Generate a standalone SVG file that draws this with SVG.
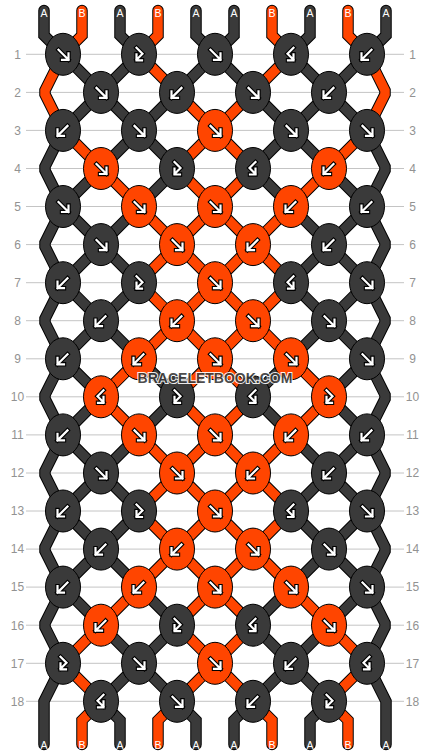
<svg xmlns="http://www.w3.org/2000/svg" width="430" height="756" viewBox="0 0 430 756">
<style>
.grid line{stroke:#c4c4c4;stroke-width:1}
.so{fill:none;stroke:#000;stroke-width:11.5;stroke-linejoin:miter;stroke-linecap:round}
.sc{fill:none;stroke-width:9.5;stroke-linejoin:miter;stroke-linecap:round}
.cd{stroke:#3a3a3a}
.co{stroke:#ff4500}
.kd{fill:#3a3a3a;stroke:#000;stroke-width:1}
.ko{fill:#ff4500;stroke:#000;stroke-width:1}
.ao{fill:none;stroke:#000;stroke-width:4.4;stroke-linejoin:miter;stroke-linecap:square}
.ai{fill:none;stroke:#fff;stroke-width:2.2;stroke-linejoin:miter;stroke-linecap:square}
.num{font-family:"Liberation Sans",Arial,sans-serif;font-size:12px;fill:#929292;text-anchor:middle}
.sl{font-family:"Liberation Sans",Arial,sans-serif;font-size:10.5px;fill:#fff;text-anchor:middle}
.wm{font-family:"Liberation Sans",Arial,sans-serif;font-size:14px;font-weight:bold;fill:#3a3a3a;stroke:#fff;stroke-width:2;paint-order:stroke;text-anchor:middle;opacity:0.9}
</style>
<defs>
<path id="pF" d="M-4.5,-4.5 L5.5,5.5 M5.5,-1 L5.5,5.5 L-1,5.5"/>
<path id="pFB" d="M-2.5,-6.5 L3.5,-0.5 L-2.5,5.5 M-2.5,0 L-2.5,6 L3,6"/>
<g id="aF"><use href="#pF" class="ao"/><use href="#pF" class="ai"/></g>
<g id="aB" transform="scale(-1,1)"><use href="#pF" class="ao"/><use href="#pF" class="ai"/></g>
<g id="aFB"><use href="#pFB" class="ao"/><use href="#pFB" class="ai"/></g>
<g id="aBF" transform="scale(-1,1)"><use href="#pFB" class="ao"/><use href="#pFB" class="ai"/></g>
</defs>
<rect width="430" height="756" fill="#fff"/>
<g class="grid">
<line x1="26" x2="404" y1="54.3" y2="54.3"/><line x1="26" x2="404" y1="92.4" y2="92.4"/><line x1="26" x2="404" y1="130.4" y2="130.4"/><line x1="26" x2="404" y1="168.5" y2="168.5"/><line x1="26" x2="404" y1="206.5" y2="206.5"/><line x1="26" x2="404" y1="244.6" y2="244.6"/><line x1="26" x2="404" y1="282.7" y2="282.7"/><line x1="26" x2="404" y1="320.7" y2="320.7"/><line x1="26" x2="404" y1="358.8" y2="358.8"/><line x1="26" x2="404" y1="396.8" y2="396.8"/><line x1="26" x2="404" y1="434.9" y2="434.9"/><line x1="26" x2="404" y1="473" y2="473"/><line x1="26" x2="404" y1="511" y2="511"/><line x1="26" x2="404" y1="549.1" y2="549.1"/><line x1="26" x2="404" y1="587.1" y2="587.1"/><line x1="26" x2="404" y1="625.2" y2="625.2"/><line x1="26" x2="404" y1="663.3" y2="663.3"/><line x1="26" x2="404" y1="701.3" y2="701.3"/>
</g>
<g id="labels">
<text class="num" x="17.5" y="58.6">1</text><text class="num" x="17.5" y="96.7">2</text><text class="num" x="17.5" y="134.7">3</text><text class="num" x="17.5" y="172.8">4</text><text class="num" x="17.5" y="210.8">5</text><text class="num" x="17.5" y="248.9">6</text><text class="num" x="17.5" y="287">7</text><text class="num" x="17.5" y="325">8</text><text class="num" x="17.5" y="363.1">9</text><text class="num" x="17.5" y="401.1">10</text><text class="num" x="17.5" y="439.2">11</text><text class="num" x="17.5" y="477.3">12</text><text class="num" x="17.5" y="515.3">13</text><text class="num" x="17.5" y="553.4">14</text><text class="num" x="17.5" y="591.4">15</text><text class="num" x="17.5" y="629.5">16</text><text class="num" x="17.5" y="667.6">17</text><text class="num" x="17.5" y="705.6">18</text>
<text class="num" x="412.5" y="58.6">1</text><text class="num" x="412.5" y="96.7">2</text><text class="num" x="412.5" y="134.7">3</text><text class="num" x="412.5" y="172.8">4</text><text class="num" x="412.5" y="210.8">5</text><text class="num" x="412.5" y="248.9">6</text><text class="num" x="412.5" y="287">7</text><text class="num" x="412.5" y="325">8</text><text class="num" x="412.5" y="363.1">9</text><text class="num" x="412.5" y="401.1">10</text><text class="num" x="412.5" y="439.2">11</text><text class="num" x="412.5" y="477.3">12</text><text class="num" x="412.5" y="515.3">13</text><text class="num" x="412.5" y="553.4">14</text><text class="num" x="412.5" y="591.4">15</text><text class="num" x="412.5" y="629.5">16</text><text class="num" x="412.5" y="667.6">17</text><text class="num" x="412.5" y="705.6">18</text>
</g>
<g id="connectors">
<g id="s0"><polyline class="so" points="44,10.5 44,35.3 63,54.3 101,92.4 139,130.4 177,168.5 139,206.5 101,244.6 63,282.7 45,318.7 45,322.7 63,358.8 101,396.8 63,434.9 45,471 45,475 63,511 101,549.1 139,587.1 177,625.2 139,663.3 101,701.3 120,720.3 120,744.5"/><polyline class="sc cd" points="44,10.5 44,35.3 63,54.3 101,92.4 139,130.4 177,168.5 139,206.5 101,244.6 63,282.7 45,318.7 45,322.7 63,358.8 101,396.8 63,434.9 45,471 45,475 63,511 101,549.1 139,587.1 177,625.2 139,663.3 101,701.3 120,720.3 120,744.5"/></g>
<g id="s1"><polyline class="so" points="82,10.5 82,35.3 63,54.3 45,90.4 45,94.4 63,130.4 101,168.5 139,206.5 177,244.6 215,282.7 253,320.7 291,358.8 329,396.8 291,434.9 253,473 215,511 177,549.1 139,587.1 101,625.2 63,663.3 101,701.3 82,720.3 82,744.5"/><polyline class="sc co" points="82,10.5 82,35.3 63,54.3 45,90.4 45,94.4 63,130.4 101,168.5 139,206.5 177,244.6 215,282.7 253,320.7 291,358.8 329,396.8 291,434.9 253,473 215,511 177,549.1 139,587.1 101,625.2 63,663.3 101,701.3 82,720.3 82,744.5"/></g>
<g id="s2"><polyline class="so" points="120,10.5 120,35.3 139,54.3 101,92.4 63,130.4 45,166.5 45,170.5 63,206.5 101,244.6 139,282.7 101,320.7 63,358.8 45,394.8 45,398.8 63,434.9 101,473 139,511 101,549.1 63,587.1 45,623.2 45,627.2 63,663.3 44,701.3 44,744.5"/><polyline class="sc cd" points="120,10.5 120,35.3 139,54.3 101,92.4 63,130.4 45,166.5 45,170.5 63,206.5 101,244.6 139,282.7 101,320.7 63,358.8 45,394.8 45,398.8 63,434.9 101,473 139,511 101,549.1 63,587.1 45,623.2 45,627.2 63,663.3 44,701.3 44,744.5"/></g>
<g id="s3"><polyline class="so" points="158,10.5 158,35.3 139,54.3 177,92.4 215,130.4 253,168.5 215,206.5 177,244.6 139,282.7 177,320.7 215,358.8 253,396.8 215,434.9 177,473 139,511 177,549.1 215,587.1 253,625.2 215,663.3 177,701.3 158,720.3 158,744.5"/><polyline class="sc co" points="158,10.5 158,35.3 139,54.3 177,92.4 215,130.4 253,168.5 215,206.5 177,244.6 139,282.7 177,320.7 215,358.8 253,396.8 215,434.9 177,473 139,511 177,549.1 215,587.1 253,625.2 215,663.3 177,701.3 158,720.3 158,744.5"/></g>
<g id="s4"><polyline class="so" points="196,10.5 196,35.3 215,54.3 253,92.4 291,130.4 329,168.5 367,206.5 385,242.6 385,246.6 367,282.7 329,320.7 291,358.8 253,396.8 291,434.9 329,473 367,511 385,547.1 385,551.1 367,587.1 329,625.2 291,663.3 253,701.3 234,720.3 234,744.5"/><polyline class="sc cd" points="196,10.5 196,35.3 215,54.3 253,92.4 291,130.4 329,168.5 367,206.5 385,242.6 385,246.6 367,282.7 329,320.7 291,358.8 253,396.8 291,434.9 329,473 367,511 385,547.1 385,551.1 367,587.1 329,625.2 291,663.3 253,701.3 234,720.3 234,744.5"/></g>
<g id="s5"><polyline class="so" points="234,10.5 234,35.3 215,54.3 177,92.4 139,130.4 101,168.5 63,206.5 45,242.6 45,246.6 63,282.7 101,320.7 139,358.8 177,396.8 139,434.9 101,473 63,511 45,547.1 45,551.1 63,587.1 101,625.2 139,663.3 177,701.3 196,720.3 196,744.5"/><polyline class="sc cd" points="234,10.5 234,35.3 215,54.3 177,92.4 139,130.4 101,168.5 63,206.5 45,242.6 45,246.6 63,282.7 101,320.7 139,358.8 177,396.8 139,434.9 101,473 63,511 45,547.1 45,551.1 63,587.1 101,625.2 139,663.3 177,701.3 196,720.3 196,744.5"/></g>
<g id="s6"><polyline class="so" points="272,10.5 272,35.3 291,54.3 253,92.4 215,130.4 177,168.5 215,206.5 253,244.6 291,282.7 253,320.7 215,358.8 177,396.8 215,434.9 253,473 291,511 253,549.1 215,587.1 177,625.2 215,663.3 253,701.3 272,720.3 272,744.5"/><polyline class="sc co" points="272,10.5 272,35.3 291,54.3 253,92.4 215,130.4 177,168.5 215,206.5 253,244.6 291,282.7 253,320.7 215,358.8 177,396.8 215,434.9 253,473 291,511 253,549.1 215,587.1 177,625.2 215,663.3 253,701.3 272,720.3 272,744.5"/></g>
<g id="s7"><polyline class="so" points="310,10.5 310,35.3 291,54.3 329,92.4 367,130.4 385,166.5 385,170.5 367,206.5 329,244.6 291,282.7 329,320.7 367,358.8 385,394.8 385,398.8 367,434.9 329,473 291,511 329,549.1 367,587.1 385,623.2 385,627.2 367,663.3 386,701.3 386,744.5"/><polyline class="sc cd" points="310,10.5 310,35.3 291,54.3 329,92.4 367,130.4 385,166.5 385,170.5 367,206.5 329,244.6 291,282.7 329,320.7 367,358.8 385,394.8 385,398.8 367,434.9 329,473 291,511 329,549.1 367,587.1 385,623.2 385,627.2 367,663.3 386,701.3 386,744.5"/></g>
<g id="s8"><polyline class="so" points="348,10.5 348,35.3 367,54.3 385,90.4 385,94.4 367,130.4 329,168.5 291,206.5 253,244.6 215,282.7 177,320.7 139,358.8 101,396.8 139,434.9 177,473 215,511 253,549.1 291,587.1 329,625.2 367,663.3 329,701.3 348,720.3 348,744.5"/><polyline class="sc co" points="348,10.5 348,35.3 367,54.3 385,90.4 385,94.4 367,130.4 329,168.5 291,206.5 253,244.6 215,282.7 177,320.7 139,358.8 101,396.8 139,434.9 177,473 215,511 253,549.1 291,587.1 329,625.2 367,663.3 329,701.3 348,720.3 348,744.5"/></g>
<g id="s9"><polyline class="so" points="386,10.5 386,35.3 367,54.3 329,92.4 291,130.4 253,168.5 291,206.5 329,244.6 367,282.7 385,318.7 385,322.7 367,358.8 329,396.8 367,434.9 385,471 385,475 367,511 329,549.1 291,587.1 253,625.2 291,663.3 329,701.3 310,720.3 310,744.5"/><polyline class="sc cd" points="386,10.5 386,35.3 367,54.3 329,92.4 291,130.4 253,168.5 291,206.5 329,244.6 367,282.7 385,318.7 385,322.7 367,358.8 329,396.8 367,434.9 385,471 385,475 367,511 329,549.1 291,587.1 253,625.2 291,663.3 329,701.3 310,720.3 310,744.5"/></g>
</g>
<g id="strlabels">
<text class="sl" x="44" y="16.5">A</text><text class="sl" x="82" y="16.5">B</text><text class="sl" x="120" y="16.5">A</text><text class="sl" x="158" y="16.5">B</text><text class="sl" x="196" y="16.5">A</text><text class="sl" x="234" y="16.5">A</text><text class="sl" x="272" y="16.5">B</text><text class="sl" x="310" y="16.5">A</text><text class="sl" x="348" y="16.5">B</text><text class="sl" x="386" y="16.5">A</text>
<text class="sl" x="44" y="748.5">A</text><text class="sl" x="82" y="748.5">B</text><text class="sl" x="120" y="748.5">A</text><text class="sl" x="158" y="748.5">B</text><text class="sl" x="196" y="748.5">A</text><text class="sl" x="234" y="748.5">A</text><text class="sl" x="272" y="748.5">B</text><text class="sl" x="310" y="748.5">A</text><text class="sl" x="348" y="748.5">B</text><text class="sl" x="386" y="748.5">A</text>
</g>
<g id="knots">
<g id="k1-1"><ellipse class="kd" cx="63" cy="54.3" rx="17.5" ry="21"/><use href="#aF" x="63" y="54.3"/></g>
<g id="k1-2"><ellipse class="kd" cx="139" cy="54.3" rx="17.5" ry="21"/><use href="#aFB" x="139" y="54.3"/></g>
<g id="k1-3"><ellipse class="kd" cx="215" cy="54.3" rx="17.5" ry="21"/><use href="#aF" x="215" y="54.3"/></g>
<g id="k1-4"><ellipse class="kd" cx="291" cy="54.3" rx="17.5" ry="21"/><use href="#aBF" x="291" y="54.3"/></g>
<g id="k1-5"><ellipse class="kd" cx="367" cy="54.3" rx="17.5" ry="21"/><use href="#aB" x="367" y="54.3"/></g>
<g id="k2-1"><ellipse class="kd" cx="101" cy="92.4" rx="17.5" ry="21"/><use href="#aF" x="101" y="92.4"/></g>
<g id="k2-2"><ellipse class="kd" cx="177" cy="92.4" rx="17.5" ry="21"/><use href="#aB" x="177" y="92.4"/></g>
<g id="k2-3"><ellipse class="kd" cx="253" cy="92.4" rx="17.5" ry="21"/><use href="#aF" x="253" y="92.4"/></g>
<g id="k2-4"><ellipse class="kd" cx="329" cy="92.4" rx="17.5" ry="21"/><use href="#aB" x="329" y="92.4"/></g>
<g id="k3-1"><ellipse class="kd" cx="63" cy="130.4" rx="17.5" ry="21"/><use href="#aB" x="63" y="130.4"/></g>
<g id="k3-2"><ellipse class="kd" cx="139" cy="130.4" rx="17.5" ry="21"/><use href="#aF" x="139" y="130.4"/></g>
<g id="k3-3"><ellipse class="ko" cx="215" cy="130.4" rx="17.5" ry="21"/><use href="#aF" x="215" y="130.4"/></g>
<g id="k3-4"><ellipse class="kd" cx="291" cy="130.4" rx="17.5" ry="21"/><use href="#aF" x="291" y="130.4"/></g>
<g id="k3-5"><ellipse class="kd" cx="367" cy="130.4" rx="17.5" ry="21"/><use href="#aF" x="367" y="130.4"/></g>
<g id="k4-1"><ellipse class="ko" cx="101" cy="168.5" rx="17.5" ry="21"/><use href="#aF" x="101" y="168.5"/></g>
<g id="k4-2"><ellipse class="kd" cx="177" cy="168.5" rx="17.5" ry="21"/><use href="#aFB" x="177" y="168.5"/></g>
<g id="k4-3"><ellipse class="kd" cx="253" cy="168.5" rx="17.5" ry="21"/><use href="#aBF" x="253" y="168.5"/></g>
<g id="k4-4"><ellipse class="ko" cx="329" cy="168.5" rx="17.5" ry="21"/><use href="#aB" x="329" y="168.5"/></g>
<g id="k5-1"><ellipse class="kd" cx="63" cy="206.5" rx="17.5" ry="21"/><use href="#aF" x="63" y="206.5"/></g>
<g id="k5-2"><ellipse class="ko" cx="139" cy="206.5" rx="17.5" ry="21"/><use href="#aF" x="139" y="206.5"/></g>
<g id="k5-3"><ellipse class="ko" cx="215" cy="206.5" rx="17.5" ry="21"/><use href="#aF" x="215" y="206.5"/></g>
<g id="k5-4"><ellipse class="ko" cx="291" cy="206.5" rx="17.5" ry="21"/><use href="#aB" x="291" y="206.5"/></g>
<g id="k5-5"><ellipse class="kd" cx="367" cy="206.5" rx="17.5" ry="21"/><use href="#aB" x="367" y="206.5"/></g>
<g id="k6-1"><ellipse class="kd" cx="101" cy="244.6" rx="17.5" ry="21"/><use href="#aF" x="101" y="244.6"/></g>
<g id="k6-2"><ellipse class="ko" cx="177" cy="244.6" rx="17.5" ry="21"/><use href="#aF" x="177" y="244.6"/></g>
<g id="k6-3"><ellipse class="ko" cx="253" cy="244.6" rx="17.5" ry="21"/><use href="#aB" x="253" y="244.6"/></g>
<g id="k6-4"><ellipse class="kd" cx="329" cy="244.6" rx="17.5" ry="21"/><use href="#aB" x="329" y="244.6"/></g>
<g id="k7-1"><ellipse class="kd" cx="63" cy="282.7" rx="17.5" ry="21"/><use href="#aB" x="63" y="282.7"/></g>
<g id="k7-2"><ellipse class="kd" cx="139" cy="282.7" rx="17.5" ry="21"/><use href="#aFB" x="139" y="282.7"/></g>
<g id="k7-3"><ellipse class="ko" cx="215" cy="282.7" rx="17.5" ry="21"/><use href="#aF" x="215" y="282.7"/></g>
<g id="k7-4"><ellipse class="kd" cx="291" cy="282.7" rx="17.5" ry="21"/><use href="#aBF" x="291" y="282.7"/></g>
<g id="k7-5"><ellipse class="kd" cx="367" cy="282.7" rx="17.5" ry="21"/><use href="#aF" x="367" y="282.7"/></g>
<g id="k8-1"><ellipse class="kd" cx="101" cy="320.7" rx="17.5" ry="21"/><use href="#aB" x="101" y="320.7"/></g>
<g id="k8-2"><ellipse class="ko" cx="177" cy="320.7" rx="17.5" ry="21"/><use href="#aB" x="177" y="320.7"/></g>
<g id="k8-3"><ellipse class="ko" cx="253" cy="320.7" rx="17.5" ry="21"/><use href="#aF" x="253" y="320.7"/></g>
<g id="k8-4"><ellipse class="kd" cx="329" cy="320.7" rx="17.5" ry="21"/><use href="#aF" x="329" y="320.7"/></g>
<g id="k9-1"><ellipse class="kd" cx="63" cy="358.8" rx="17.5" ry="21"/><use href="#aB" x="63" y="358.8"/></g>
<g id="k9-2"><ellipse class="ko" cx="139" cy="358.8" rx="17.5" ry="21"/><use href="#aB" x="139" y="358.8"/></g>
<g id="k9-3"><ellipse class="ko" cx="215" cy="358.8" rx="17.5" ry="21"/><use href="#aF" x="215" y="358.8"/></g>
<g id="k9-4"><ellipse class="ko" cx="291" cy="358.8" rx="17.5" ry="21"/><use href="#aF" x="291" y="358.8"/></g>
<g id="k9-5"><ellipse class="kd" cx="367" cy="358.8" rx="17.5" ry="21"/><use href="#aF" x="367" y="358.8"/></g>
<g id="k10-1"><ellipse class="ko" cx="101" cy="396.8" rx="17.5" ry="21"/><use href="#aBF" x="101" y="396.8"/></g>
<g id="k10-2"><ellipse class="kd" cx="177" cy="396.8" rx="17.5" ry="21"/><use href="#aFB" x="177" y="396.8"/></g>
<g id="k10-3"><ellipse class="kd" cx="253" cy="396.8" rx="17.5" ry="21"/><use href="#aBF" x="253" y="396.8"/></g>
<g id="k10-4"><ellipse class="ko" cx="329" cy="396.8" rx="17.5" ry="21"/><use href="#aFB" x="329" y="396.8"/></g>
<g id="k11-1"><ellipse class="kd" cx="63" cy="434.9" rx="17.5" ry="21"/><use href="#aB" x="63" y="434.9"/></g>
<g id="k11-2"><ellipse class="ko" cx="139" cy="434.9" rx="17.5" ry="21"/><use href="#aF" x="139" y="434.9"/></g>
<g id="k11-3"><ellipse class="ko" cx="215" cy="434.9" rx="17.5" ry="21"/><use href="#aF" x="215" y="434.9"/></g>
<g id="k11-4"><ellipse class="ko" cx="291" cy="434.9" rx="17.5" ry="21"/><use href="#aB" x="291" y="434.9"/></g>
<g id="k11-5"><ellipse class="kd" cx="367" cy="434.9" rx="17.5" ry="21"/><use href="#aB" x="367" y="434.9"/></g>
<g id="k12-1"><ellipse class="kd" cx="101" cy="473" rx="17.5" ry="21"/><use href="#aF" x="101" y="473"/></g>
<g id="k12-2"><ellipse class="ko" cx="177" cy="473" rx="17.5" ry="21"/><use href="#aF" x="177" y="473"/></g>
<g id="k12-3"><ellipse class="ko" cx="253" cy="473" rx="17.5" ry="21"/><use href="#aB" x="253" y="473"/></g>
<g id="k12-4"><ellipse class="kd" cx="329" cy="473" rx="17.5" ry="21"/><use href="#aB" x="329" y="473"/></g>
<g id="k13-1"><ellipse class="kd" cx="63" cy="511" rx="17.5" ry="21"/><use href="#aB" x="63" y="511"/></g>
<g id="k13-2"><ellipse class="kd" cx="139" cy="511" rx="17.5" ry="21"/><use href="#aFB" x="139" y="511"/></g>
<g id="k13-3"><ellipse class="ko" cx="215" cy="511" rx="17.5" ry="21"/><use href="#aF" x="215" y="511"/></g>
<g id="k13-4"><ellipse class="kd" cx="291" cy="511" rx="17.5" ry="21"/><use href="#aBF" x="291" y="511"/></g>
<g id="k13-5"><ellipse class="kd" cx="367" cy="511" rx="17.5" ry="21"/><use href="#aF" x="367" y="511"/></g>
<g id="k14-1"><ellipse class="kd" cx="101" cy="549.1" rx="17.5" ry="21"/><use href="#aB" x="101" y="549.1"/></g>
<g id="k14-2"><ellipse class="ko" cx="177" cy="549.1" rx="17.5" ry="21"/><use href="#aB" x="177" y="549.1"/></g>
<g id="k14-3"><ellipse class="ko" cx="253" cy="549.1" rx="17.5" ry="21"/><use href="#aF" x="253" y="549.1"/></g>
<g id="k14-4"><ellipse class="kd" cx="329" cy="549.1" rx="17.5" ry="21"/><use href="#aF" x="329" y="549.1"/></g>
<g id="k15-1"><ellipse class="kd" cx="63" cy="587.1" rx="17.5" ry="21"/><use href="#aB" x="63" y="587.1"/></g>
<g id="k15-2"><ellipse class="ko" cx="139" cy="587.1" rx="17.5" ry="21"/><use href="#aB" x="139" y="587.1"/></g>
<g id="k15-3"><ellipse class="ko" cx="215" cy="587.1" rx="17.5" ry="21"/><use href="#aF" x="215" y="587.1"/></g>
<g id="k15-4"><ellipse class="ko" cx="291" cy="587.1" rx="17.5" ry="21"/><use href="#aF" x="291" y="587.1"/></g>
<g id="k15-5"><ellipse class="kd" cx="367" cy="587.1" rx="17.5" ry="21"/><use href="#aF" x="367" y="587.1"/></g>
<g id="k16-1"><ellipse class="ko" cx="101" cy="625.2" rx="17.5" ry="21"/><use href="#aB" x="101" y="625.2"/></g>
<g id="k16-2"><ellipse class="kd" cx="177" cy="625.2" rx="17.5" ry="21"/><use href="#aFB" x="177" y="625.2"/></g>
<g id="k16-3"><ellipse class="kd" cx="253" cy="625.2" rx="17.5" ry="21"/><use href="#aBF" x="253" y="625.2"/></g>
<g id="k16-4"><ellipse class="ko" cx="329" cy="625.2" rx="17.5" ry="21"/><use href="#aF" x="329" y="625.2"/></g>
<g id="k17-1"><ellipse class="kd" cx="63" cy="663.3" rx="17.5" ry="21"/><use href="#aFB" x="63" y="663.3"/></g>
<g id="k17-2"><ellipse class="kd" cx="139" cy="663.3" rx="17.5" ry="21"/><use href="#aF" x="139" y="663.3"/></g>
<g id="k17-3"><ellipse class="ko" cx="215" cy="663.3" rx="17.5" ry="21"/><use href="#aF" x="215" y="663.3"/></g>
<g id="k17-4"><ellipse class="kd" cx="291" cy="663.3" rx="17.5" ry="21"/><use href="#aB" x="291" y="663.3"/></g>
<g id="k17-5"><ellipse class="kd" cx="367" cy="663.3" rx="17.5" ry="21"/><use href="#aBF" x="367" y="663.3"/></g>
<g id="k18-1"><ellipse class="kd" cx="101" cy="701.3" rx="17.5" ry="21"/><use href="#aBF" x="101" y="701.3"/></g>
<g id="k18-2"><ellipse class="kd" cx="177" cy="701.3" rx="17.5" ry="21"/><use href="#aF" x="177" y="701.3"/></g>
<g id="k18-3"><ellipse class="kd" cx="253" cy="701.3" rx="17.5" ry="21"/><use href="#aB" x="253" y="701.3"/></g>
<g id="k18-4"><ellipse class="kd" cx="329" cy="701.3" rx="17.5" ry="21"/><use href="#aFB" x="329" y="701.3"/></g>
</g>
<text class="wm" x="215" y="383">BRACELETBOOK.COM</text>
</svg>
